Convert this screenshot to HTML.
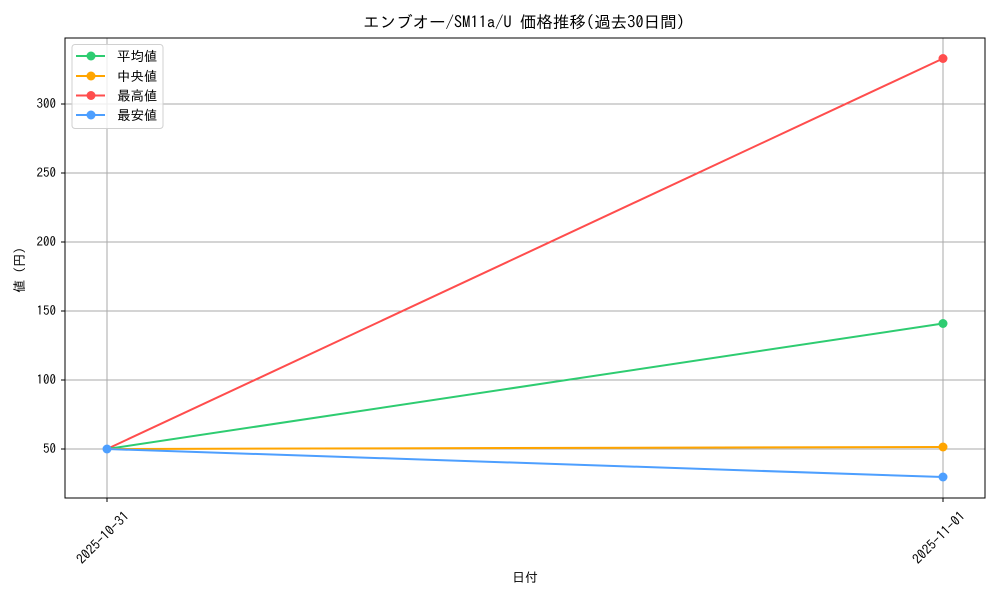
<!DOCTYPE html>
<html><head><meta charset="utf-8"><style>body{margin:0;background:#fff}svg{display:block}text{font-family:"IPAGothic","Liberation Sans","Noto Sans CJK JP",sans-serif;fill:#000}</style></head>
<body>
<svg width="1000" height="600" viewBox="0 0 1000 600">
<rect width="1000" height="600" fill="#fff"/>
<text x="524" y="28" font-size="16.5" text-anchor="middle">エンブオー/SM11a/U 価格推移(過去30日間)</text>
<g stroke="#aaaaaa" stroke-width="1">
<line x1="107" y1="38" x2="107" y2="498"/><line x1="943" y1="38" x2="943" y2="498"/>
<line x1="65" y1="449" x2="985" y2="449"/><line x1="65" y1="380" x2="985" y2="380"/>
<line x1="65" y1="311" x2="985" y2="311"/><line x1="65" y1="242" x2="985" y2="242"/>
<line x1="65" y1="173" x2="985" y2="173"/><line x1="65" y1="104" x2="985" y2="104"/>
</g>
<g stroke="#000" stroke-width="1">
<line x1="107" y1="498" x2="107" y2="502"/><line x1="943" y1="498" x2="943" y2="502"/>
<line x1="61" y1="449" x2="65" y2="449"/><line x1="61" y1="380" x2="65" y2="380"/><line x1="61" y1="311" x2="65" y2="311"/><line x1="61" y1="242" x2="65" y2="242"/><line x1="61" y1="173" x2="65" y2="173"/><line x1="61" y1="104" x2="65" y2="104"/>
</g>
<g font-size="13" text-anchor="end">
<text x="56" y="453">50</text><text x="56" y="384">100</text><text x="56" y="315">150</text><text x="56" y="246">200</text><text x="56" y="177">250</text><text x="56" y="108">300</text>
<text transform="translate(130,517) rotate(-45)" font-size="13.5">2025-10-31</text>
<text transform="translate(966,517) rotate(-45)" font-size="13.5">2025-11-01</text>
</g>
<text x="525" y="582" font-size="13" text-anchor="middle">日付</text>
<text transform="translate(24,270) rotate(-90)" font-size="13" text-anchor="middle">値 (円)</text>
<g stroke-width="2" fill="none">
<polyline points="107,449 943,58.5" stroke="#ff4d4d"/>
<polyline points="107,449 943,323.5" stroke="#2ecc71"/>
<polyline points="107,449 943,447" stroke="#ffa500"/>
<polyline points="107,449 943,477" stroke="#4d9fff"/>
</g>
<circle cx="943" cy="58.5" r="4.5" fill="#ff4d4d"/><circle cx="943" cy="323.5" r="4.5" fill="#2ecc71"/><circle cx="943" cy="447" r="4.5" fill="#ffa500"/><circle cx="943" cy="477" r="4.5" fill="#4d9fff"/>
<circle cx="107" cy="449" r="4.5" fill="#4d9fff"/>
<rect x="65" y="38" width="920" height="460" fill="none" stroke="#000" stroke-width="1"/>
<rect x="72" y="44.5" width="91" height="84" rx="3" fill="#fff" fill-opacity="0.8" stroke="#d0d0d0"/>
<g stroke-width="2">
<line x1="76" y1="56" x2="105" y2="56" stroke="#2ecc71"/><circle cx="91" cy="56" r="4.5" fill="#2ecc71"/>
<line x1="76" y1="76" x2="105" y2="76" stroke="#ffa500"/><circle cx="91" cy="76" r="4.5" fill="#ffa500"/>
<line x1="76" y1="95.5" x2="105" y2="95.5" stroke="#ff4d4d"/><circle cx="91" cy="95.5" r="4.5" fill="#ff4d4d"/>
<line x1="76" y1="115" x2="105" y2="115" stroke="#4d9fff"/><circle cx="91" cy="115" r="4.5" fill="#4d9fff"/>
</g>
<g font-size="13.5"><text x="117" y="61">平均値</text><text x="117" y="81">中央値</text><text x="117" y="100.5">最高値</text><text x="117" y="120">最安値</text></g>
</svg>
</body></html>
